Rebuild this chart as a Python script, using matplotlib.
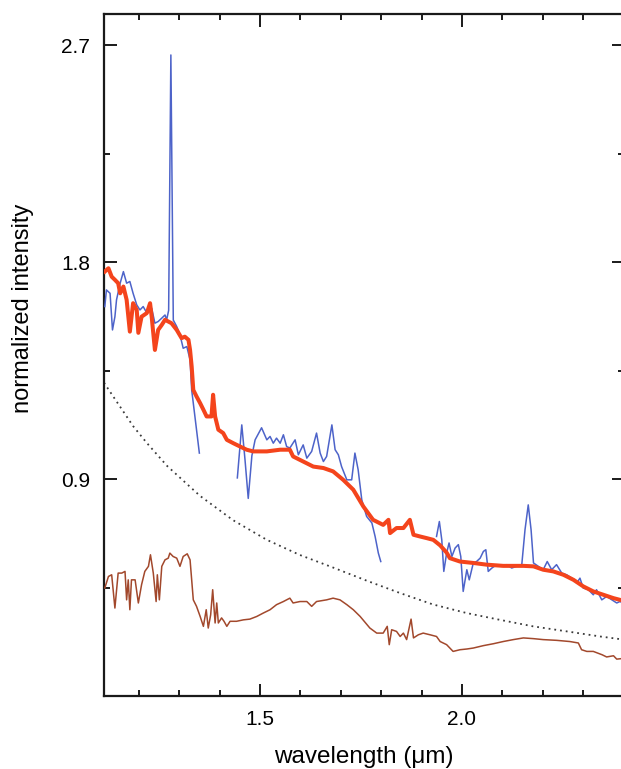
import matplotlib
matplotlib.use("Agg")
import matplotlib.pyplot as plt
from matplotlib.ticker import FixedLocator, NullFormatter, FormatStrFormatter

plt.rcParams["font.family"] = ["Liberation Sans", "DejaVu Sans"]

# ── observed spectrum (blue), three segments separated by telluric gaps ──
blue1_wl = [1.116, 1.120, 1.129, 1.135, 1.141, 1.145, 1.154, 1.162, 1.170, 1.178,
            1.186, 1.195, 1.203, 1.211, 1.220, 1.232, 1.240, 1.248, 1.257, 1.265,
            1.269, 1.274, 1.2795, 1.2855, 1.294, 1.302, 1.310, 1.319, 1.327, 1.331,
            1.339, 1.350]
blue1_int = [1.616, 1.685, 1.671, 1.519, 1.574, 1.644, 1.713, 1.761, 1.713, 1.720,
             1.671, 1.623, 1.602, 1.616, 1.589, 1.609, 1.547, 1.554, 1.568, 1.581,
             1.561, 1.600, 2.660, 1.560, 1.533, 1.499, 1.443, 1.450, 1.395, 1.270,
             1.160, 1.008]

blue2_wl = [1.444, 1.455, 1.463, 1.471, 1.480, 1.488, 1.504, 1.517, 1.525, 1.533,
            1.541, 1.550, 1.558, 1.566, 1.574, 1.587, 1.595, 1.607, 1.616, 1.628,
            1.640, 1.649, 1.657, 1.665, 1.678, 1.686, 1.694, 1.702, 1.715, 1.727,
            1.735, 1.743, 1.752, 1.764, 1.777, 1.785, 1.793, 1.799]
blue2_int = [0.905, 1.125, 0.980, 0.820, 0.997, 1.063, 1.113, 1.063, 1.077, 1.049,
             1.070, 1.049, 1.084, 1.035, 1.029, 1.063, 1.001, 1.042, 0.987, 1.015,
             1.091, 1.008, 0.973, 0.994, 1.125, 1.022, 1.001, 0.952, 0.897, 0.897,
             1.008, 0.939, 0.814, 0.745, 0.718, 0.662, 0.593, 0.558]

blue3_wl = [1.937, 1.944, 1.950, 1.955, 1.962, 1.968, 1.975, 1.983, 1.991, 1.997,
            2.003, 2.012, 2.018, 2.028, 2.036, 2.045, 2.053, 2.059, 2.065, 2.074,
            2.086, 2.098, 2.111, 2.123, 2.135, 2.148, 2.156, 2.164, 2.171, 2.177,
            2.189, 2.201, 2.211, 2.222, 2.234, 2.247, 2.259, 2.272, 2.284, 2.292,
            2.300, 2.313, 2.325, 2.333, 2.346, 2.358, 2.371, 2.383, 2.391, 2.400]
blue3_int = [0.662, 0.724, 0.648, 0.517, 0.593, 0.635, 0.579, 0.614, 0.628, 0.579,
             0.434, 0.524, 0.482, 0.552, 0.558, 0.572, 0.600, 0.607, 0.517, 0.531,
             0.545, 0.538, 0.545, 0.531, 0.538, 0.545, 0.690, 0.793, 0.690, 0.552,
             0.538, 0.524, 0.558, 0.524, 0.545, 0.510, 0.503, 0.489, 0.469, 0.489,
             0.448, 0.441, 0.420, 0.441, 0.399, 0.413, 0.399, 0.386, 0.392, 0.385]

# ── model spectrum (red) ──
red_wl = [1.116, 1.125, 1.133, 1.141, 1.149, 1.154, 1.162, 1.170, 1.178, 1.186,
          1.195, 1.199, 1.207, 1.220, 1.228, 1.232, 1.240, 1.248, 1.257, 1.265,
          1.273, 1.281, 1.294, 1.306, 1.314, 1.323, 1.327, 1.331, 1.335, 1.343,
          1.352, 1.360, 1.368, 1.380, 1.384, 1.389, 1.397, 1.409, 1.418, 1.434,
          1.451, 1.467, 1.483, 1.517, 1.550, 1.574, 1.582, 1.607, 1.632, 1.657,
          1.681, 1.706, 1.731, 1.756, 1.780, 1.805, 1.818, 1.822, 1.838, 1.855,
          1.871, 1.880, 1.896, 1.913, 1.929, 1.946, 1.962, 1.970, 1.995, 2.028,
          2.061, 2.102, 2.152, 2.177, 2.201, 2.226, 2.251, 2.276, 2.300, 2.325,
          2.350, 2.375, 2.391, 2.400]
red_int = [1.761, 1.775, 1.740, 1.727, 1.713, 1.671, 1.699, 1.644, 1.512, 1.630,
           1.602, 1.507, 1.574, 1.589, 1.630, 1.574, 1.436, 1.519, 1.540, 1.561,
           1.554, 1.547, 1.519, 1.485, 1.491, 1.478, 1.436, 1.367, 1.270, 1.243,
           1.215, 1.188, 1.160, 1.160, 1.250, 1.160, 1.105, 1.091, 1.063, 1.049,
           1.035, 1.022, 1.015, 1.015, 1.022, 1.022, 0.994, 0.973, 0.952, 0.946,
           0.932, 0.897, 0.856, 0.786, 0.731, 0.710, 0.731, 0.676, 0.697, 0.697,
           0.731, 0.669, 0.662, 0.655, 0.648, 0.625, 0.595, 0.572, 0.558, 0.552,
           0.545, 0.540, 0.540, 0.538, 0.524, 0.517, 0.503, 0.482, 0.455, 0.434,
           0.420, 0.406, 0.399, 0.395]

# ── smooth continuum (dotted) ──
cont_wl = [1.114, 1.154, 1.186, 1.220, 1.270, 1.319, 1.352, 1.433, 1.517, 1.599,
           1.681, 1.765, 1.847, 1.928, 2.012, 2.094, 2.176, 2.260, 2.342, 2.400]
cont_int = [1.300, 1.200, 1.120, 1.050, 0.955, 0.880, 0.830, 0.730, 0.648, 0.585,
            0.533, 0.478, 0.427, 0.380, 0.344, 0.316, 0.289, 0.268, 0.247, 0.234]

# ── comparison spectrum (brown) ──
brown_wl = [1.116, 1.125, 1.133, 1.141, 1.149, 1.158, 1.166, 1.170, 1.174, 1.178,
            1.182, 1.191, 1.199, 1.207, 1.215, 1.224, 1.229, 1.236, 1.243, 1.246,
            1.251, 1.257, 1.265, 1.273, 1.277, 1.285, 1.294, 1.302, 1.310, 1.320,
            1.327, 1.335, 1.343, 1.352, 1.360, 1.367, 1.372, 1.378, 1.383, 1.389,
            1.393, 1.397, 1.405, 1.411, 1.418, 1.426, 1.442, 1.459, 1.475, 1.492,
            1.508, 1.525, 1.541, 1.558, 1.574, 1.582, 1.599, 1.616, 1.628, 1.640,
            1.665, 1.681, 1.698, 1.715, 1.731, 1.748, 1.772, 1.789, 1.805, 1.815,
            1.820, 1.826, 1.838, 1.847, 1.855, 1.863, 1.874, 1.880, 1.892, 1.904,
            1.921, 1.937, 1.946, 1.962, 1.978, 1.995, 2.012, 2.028, 2.053, 2.078,
            2.102, 2.127, 2.152, 2.177, 2.201, 2.234, 2.267, 2.288, 2.296, 2.309,
            2.325, 2.347, 2.358, 2.375, 2.383, 2.400]
brown_int = [0.448, 0.496, 0.503, 0.365, 0.510, 0.510, 0.517, 0.399, 0.482, 0.358,
             0.482, 0.482, 0.386, 0.462, 0.517, 0.538, 0.586, 0.510, 0.392, 0.503,
             0.399, 0.538, 0.565, 0.572, 0.593, 0.579, 0.572, 0.538, 0.579, 0.590,
             0.565, 0.399, 0.372, 0.330, 0.289, 0.358, 0.282, 0.337, 0.441, 0.303,
             0.386, 0.303, 0.324, 0.310, 0.289, 0.310, 0.310, 0.316, 0.319, 0.330,
             0.344, 0.358, 0.379, 0.392, 0.406, 0.386, 0.392, 0.392, 0.372, 0.392,
             0.399, 0.406, 0.399, 0.379, 0.358, 0.330, 0.282, 0.261, 0.261, 0.289,
             0.213, 0.275, 0.268, 0.247, 0.261, 0.234, 0.319, 0.241, 0.254, 0.261,
             0.254, 0.247, 0.226, 0.213, 0.185, 0.192, 0.195, 0.199, 0.209, 0.217,
             0.226, 0.234, 0.241, 0.238, 0.234, 0.231, 0.226, 0.220, 0.192, 0.185,
             0.185, 0.171, 0.162, 0.167, 0.153, 0.156]

BLUE = "#4d63c9"
RED = "#f4441c"
BROWN = "#a2482c"
DOT = "#3a3a3a"

fig = plt.figure(figsize=(6.21, 7.69), dpi=100)
# right spine falls just past the right edge of the picture, as in the scan
ax = fig.add_axes([104 / 621, 73 / 769, 519.6 / 621, 682 / 769])

ax.plot(cont_wl, cont_int, color=DOT, lw=1.3, linestyle=(0, (1, 2.2)), zorder=2)
ax.plot(brown_wl, brown_int, color=BROWN, lw=1.1, zorder=3)
for wl, it in [(blue1_wl, blue1_int), (blue2_wl, blue2_int), (blue3_wl, blue3_int)]:
    ax.plot(wl, it, color=BLUE, lw=1.1, zorder=4)
ax.plot(red_wl, red_int, color=RED, lw=2.9, zorder=5)

ax.set_xlim(1.114, 2.40)
ax.set_ylim(0, 2.83)

ax.xaxis.set_major_locator(FixedLocator([1.5, 2.0]))
ax.xaxis.set_minor_locator(FixedLocator([1.2, 1.3, 1.4, 1.6, 1.7, 1.8, 1.9, 2.1, 2.2, 2.3]))
ax.yaxis.set_major_locator(FixedLocator([0.9, 1.8, 2.7]))
ax.yaxis.set_minor_locator(FixedLocator([0.45, 1.35, 2.25]))
ax.xaxis.set_major_formatter(FormatStrFormatter("%.1f"))
ax.yaxis.set_major_formatter(FormatStrFormatter("%.1f"))
ax.xaxis.set_minor_formatter(NullFormatter())

ax.tick_params(which="both", direction="in", top=True, right=True,
               color="#1a1a1a", width=1.4)
ax.tick_params(which="major", length=9, labelsize=15, pad=10)
ax.tick_params(which="minor", length=4.5)
for s in ax.spines.values():
    s.set_linewidth(1.6)
    s.set_color("#1a1a1a")

ax.set_xlabel("wavelength (\u03bcm)", fontsize=17.5)
ax.set_ylabel("normalized intensity", fontsize=17)
ax.xaxis.set_label_coords(0.5, -0.074)
ax.yaxis.set_label_coords(-0.135, 0.569)

fig.savefig("out.png", dpi=100, facecolor="white")
